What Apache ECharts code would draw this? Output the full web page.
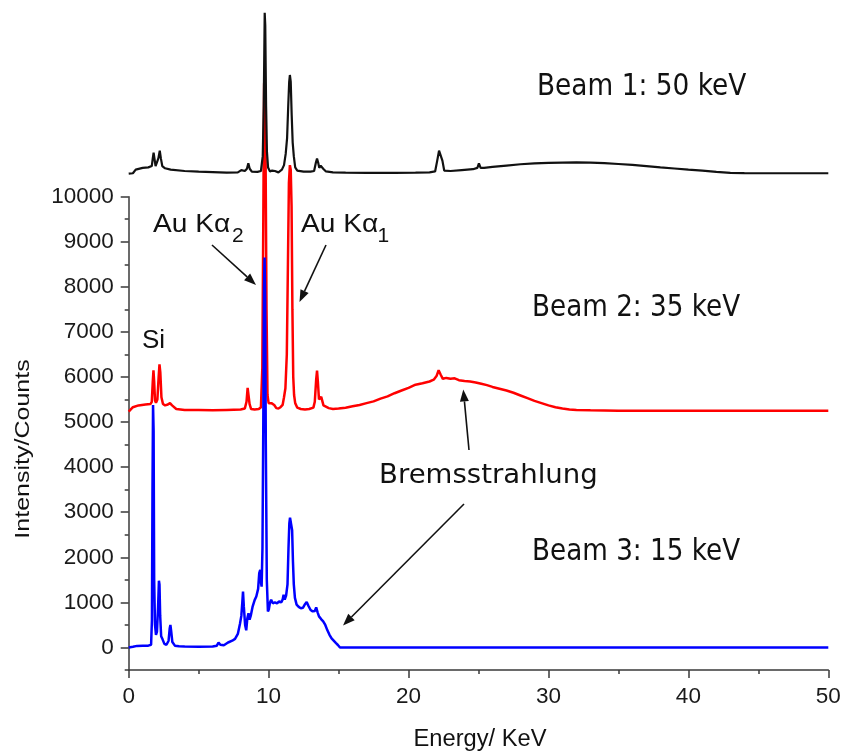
<!DOCTYPE html>
<html>
<head>
<meta charset="utf-8">
<script src="https://cdn.jsdelivr.net/npm/echarts@6/dist/echarts.min.js"></script>
<style>
  html, body { margin: 0; padding: 0; background: #ffffff; }
  #chart { width: 845px; height: 753px; }
</style>
</head>
<body>
<div id="chart"></div>
<script>
// EDS spectra of a gold-coated silicon sample at three beam energies (stacked with offsets)

// Beam 1: 50 keV (offset trace, drawn above the 10000 tick)
const beam1Energy = [0, 0.3, 0.5, 0.6, 1.0, 1.4, 1.65, 1.72, 1.78, 1.84, 1.92, 2.0, 2.12, 2.22, 2.3, 2.4, 2.6, 3.0, 4.0, 5.0, 6.0, 7.0, 7.8, 8.05, 8.15, 8.3, 8.45, 8.55, 8.65, 8.8, 9.2, 9.45, 9.58, 9.65, 9.72, 9.76, 9.82, 9.88, 9.96, 10.1, 10.25, 10.35, 10.45, 10.7, 10.95, 11.1, 11.22, 11.32, 11.4, 11.47, 11.52, 11.58, 11.65, 11.72, 11.8, 11.9, 12.05, 12.5, 13.0, 13.25, 13.38, 13.46, 13.54, 13.62, 13.72, 13.8, 13.9, 14.1, 14.6, 15.5, 17.0, 19.0, 20.5, 21.5, 21.9, 22.05, 22.18, 22.3, 22.42, 22.55, 23.0, 23.8, 24.6, 24.92, 25.03, 25.15, 25.4, 26.0, 27.0, 28.0, 29.0, 30.0, 31.0, 32.0, 33.0, 34.0, 35.0, 36.0, 37.0, 38.0, 39.0, 40.0, 41.0, 42.0, 43.0, 44.0, 46.0, 48.0, 50.0];
const beam1Counts = [10510, 10520, 10600, 10630, 10640, 10650, 10680, 10850, 10975, 10850, 10680, 10670, 10850, 11020, 10850, 10680, 10630, 10600, 10570, 10555, 10545, 10535, 10540, 10590, 10620, 10570, 10620, 10740, 10620, 10555, 10550, 10570, 10900, 12000, 14080, 13800, 12000, 11000, 10650, 10560, 10580, 10610, 10570, 10540, 10600, 10700, 10950, 11300, 12000, 12550, 12700, 12550, 11800, 11200, 10900, 10650, 10580, 10555, 10555, 10570, 10760, 10845, 10760, 10640, 10690, 10700, 10620, 10560, 10540, 10535, 10530, 10530, 10535, 10540, 10560, 10800, 11020, 11030, 10800, 10580, 10570, 10590, 10610, 10640, 10740, 10640, 10640, 10660, 10690, 10720, 10740, 10750, 10755, 10760, 10755, 10745, 10725, 10705, 10680, 10650, 10625, 10600, 10578, 10550, 10530, 10522, 10520, 10520, 10520];

// Beam 2: 35 keV (offset trace)
const beam2Energy = [0, 0.3, 0.7, 1.2, 1.55, 1.65, 1.72, 1.77, 1.82, 1.88, 1.95, 2.05, 2.14, 2.2, 2.26, 2.34, 2.45, 2.6, 2.8, 2.95, 3.1, 3.4, 4.0, 5.0, 6.0, 7.0, 8.0, 8.3, 8.42, 8.5, 8.56, 8.64, 8.75, 9.0, 9.3, 9.45, 9.55, 9.62, 9.68, 9.72, 9.78, 9.85, 9.92, 10.0, 10.1, 10.2, 10.3, 10.4, 10.55, 10.7, 10.85, 11.0, 11.1, 11.2, 11.3, 11.38, 11.45, 11.52, 11.58, 11.64, 11.7, 11.76, 11.82, 11.9, 12.05, 12.3, 12.6, 12.9, 13.2, 13.3, 13.4, 13.46, 13.52, 13.6, 13.68, 13.76, 13.83, 13.92, 14.05, 14.3, 14.6, 15.0, 15.5, 16.0, 16.5, 17.0, 17.5, 18.0, 18.5, 19.0, 19.5, 20.0, 20.5, 21.0, 21.5, 21.8, 22.0, 22.15, 22.3, 22.45, 22.7, 23.0, 23.3, 23.6, 24.0, 24.4, 24.8, 25.2, 25.6, 26.0, 26.5, 27.0, 27.5, 28.0, 28.5, 29.0, 29.5, 30.0, 30.5, 31.0, 31.5, 32.0, 33.0, 34.0, 35.0, 40.0, 45.0, 50.0];
const beam2Counts = [5230, 5330, 5370, 5390, 5400, 5450, 5900, 6150, 5900, 5480, 5430, 5500, 6000, 6280, 6100, 5550, 5400, 5370, 5390, 5420, 5370, 5290, 5270, 5270, 5260, 5270, 5280, 5300, 5450, 5760, 5760, 5400, 5290, 5280, 5290, 5330, 6200, 9500, 12500, 12700, 11000, 7500, 5600, 5420, 5380, 5420, 5440, 5380, 5310, 5300, 5330, 5380, 5550, 5750, 6500, 8500, 10300, 10700, 10600, 9800, 7500, 6000, 5600, 5420, 5320, 5290, 5280, 5290, 5320, 5450, 5950, 6140, 5900, 5500, 5480, 5560, 5520, 5370, 5330, 5310, 5290, 5300, 5320, 5350, 5380, 5420, 5460, 5520, 5570, 5640, 5700, 5760, 5830, 5860, 5900, 5940, 6020, 6150, 6050, 5960, 5980, 5960, 5970, 5930, 5910, 5900, 5880, 5850, 5820, 5780, 5740, 5700, 5650, 5590, 5530, 5470, 5420, 5370, 5330, 5300, 5280, 5270, 5260, 5255, 5250, 5250, 5250, 5250];

// Beam 3: 15 keV (no offset)
const beam3Energy = [0, 0.3, 0.6, 1.0, 1.4, 1.6, 1.66, 1.7, 1.74, 1.78, 1.82, 1.88, 1.95, 2.02, 2.1, 2.16, 2.2, 2.25, 2.32, 2.42, 2.55, 2.7, 2.85, 2.93, 2.98, 3.03, 3.12, 3.3, 3.6, 4.0, 5.0, 6.0, 6.3, 6.42, 6.55, 6.8, 7.1, 7.4, 7.6, 7.8, 7.95, 8.05, 8.12, 8.17, 8.23, 8.32, 8.4, 8.48, 8.56, 8.64, 8.72, 8.85, 9.0, 9.12, 9.25, 9.33, 9.4, 9.45, 9.5, 9.56, 9.62, 9.67, 9.71, 9.75, 9.8, 9.87, 9.95, 10.02, 10.1, 10.18, 10.3, 10.45, 10.6, 10.75, 10.9, 11.0, 11.07, 11.15, 11.25, 11.35, 11.42, 11.48, 11.53, 11.58, 11.63, 11.68, 11.74, 11.8, 11.88, 12.0, 12.15, 12.3, 12.45, 12.6, 12.72, 12.85, 13.0, 13.15, 13.3, 13.4, 13.5, 13.6, 13.75, 13.9, 14.05, 14.2, 14.35, 14.5, 14.65, 14.8, 14.95, 15.1, 20.0, 30.0, 40.0, 50.0];
const beam3Counts = [0, 15, 35, 40, 40, 60, 600, 3500, 5380, 4800, 1500, 500, 280, 350, 900, 1480, 1400, 700, 250, 180, 80, 60, 150, 420, 500, 380, 120, 40, 25, 20, 15, 20, 40, 110, 60, 50, 110, 150, 190, 300, 520, 700, 1000, 1240, 900, 500, 380, 650, 760, 620, 700, 900, 1050, 1130, 1300, 1650, 1720, 1450, 1350, 2200, 5000, 8000, 8650, 7800, 4500, 1500, 800, 850, 1000, 1060, 980, 1000, 980, 1020, 1000, 1060, 1170, 1060, 1150, 1400, 2200, 2750, 2880, 2900, 2850, 2600, 1900, 1400, 1100, 950, 900, 870, 880, 960, 1010, 920, 830, 800, 810, 890, 780, 690, 630, 580, 500, 380, 280, 200, 150, 100, 55, 0, 0, 0, 0, 0];

// Axis ticks
const xTickValues = [0, 10, 20, 30, 40, 50];
const yMajorTicks = [0, 1000, 2000, 3000, 4000, 5000, 6000, 7000, 8000, 9000, 10000];
const yMinorTicks = [-500, 500, 1500, 2500, 3500, 4500, 5500, 6500, 7500, 8500, 9500];

function toPairs(xs, ys) {
  return xs.map((x, i) => [x, ys[i]]);
}

const AXIS_COLOR = '#3a3a3a';
const ARIAL = '"Liberation Sans", Arial, sans-serif';
const VERDANA = '"DejaVu Sans", Verdana, sans-serif';

// Arrow made of a shaft and a filled head, from tail (x1,y1) to tip (x2,y2)
function arrow(x1, y1, x2, y2) {
  const dx = x2 - x1, dy = y2 - y1;
  const len = Math.hypot(dx, dy);
  const ux = dx / len, uy = dy / len;
  const nx = -uy, ny = ux;
  const headLen = 12, headHalf = 4.5;
  const bx = x2 - ux * headLen, by = y2 - uy * headLen;
  return [
    { type: 'line', z: 100, shape: { x1: x1, y1: y1, x2: bx, y2: by },
      style: { stroke: '#111', lineWidth: 1.6 } },
    { type: 'polygon', z: 100,
      shape: { points: [[x2, y2], [bx + nx * headHalf, by + ny * headHalf], [bx - nx * headHalf, by - ny * headHalf]] },
      style: { fill: '#111' } }
  ];
}

function label(text, x, y, font, opts) {
  opts = opts || {};
  return {
    type: 'text', z: 100, x: x, y: y,
    rotation: opts.rotation || 0,
    scaleX: opts.scaleX || 1,
    style: {
      text: text, font: font, fill: '#111',
      textAlign: opts.align || 'left',
      textVerticalAlign: 'middle'
    }
  };
}

const chart = echarts.init(document.getElementById('chart'), null, { renderer: 'canvas' });

const graphics = [].concat(
  [
    label('Beam 1: 50 keV', 537, 87, '30px ' + VERDANA, { scaleX: 0.88 }),
    label('Beam 2: 35 keV', 532, 308, '30px ' + VERDANA, { scaleX: 0.875 }),
    label('Beam 3: 15 keV', 532, 552, '30px ' + VERDANA, { scaleX: 0.875 }),
    label('Bremsstrahlung', 379, 476, '26.5px ' + VERDANA, { scaleX: 1.04 }),
    label('Si', 142, 341, '26px ' + ARIAL),
    label('Au K\u03b1', 153, 225, '26px ' + ARIAL, { scaleX: 1.08 }),
    label('2', 232, 236, '21px ' + ARIAL),
    label('Au K\u03b1', 301, 225, '26px ' + ARIAL, { scaleX: 1.08 }),
    label('1', 377.5, 236, '21px ' + ARIAL),
    label('Intensity/Counts', 23, 449, '20px ' + ARIAL, { rotation: Math.PI / 2, scaleX: 1.25, align: 'center' }),
    label('Energy/ KeV', 480, 740, '23px ' + ARIAL, { align: 'center', scaleX: 1.03 })
  ],
  arrow(212, 245, 256, 285),
  arrow(326, 245, 299.5, 302),
  arrow(469, 450, 463.3, 389.5),
  arrow(464, 504, 343, 625.5)
);

chart.setOption({
  animation: false,
  backgroundColor: '#ffffff',
  grid: { left: 128.7, right: 16.7, top: 196.7, bottom: 83, containLabel: false },
  xAxis: {
    type: 'value',
    min: 0, max: 50, interval: 10,
    axisLine: { show: true, onZero: false, lineStyle: { color: AXIS_COLOR, width: 1.5 } },
    axisTick: { show: true, length: 8, lineStyle: { color: AXIS_COLOR, width: 1.5 } },
    minorTick: { show: true, splitNumber: 2, length: 4, lineStyle: { color: AXIS_COLOR, width: 1.5 } },
    axisLabel: { margin: 15, fontSize: 22.5, fontFamily: ARIAL, color: '#1a1a1a',
      formatter: function (v) { return xTickValues.indexOf(v) >= 0 ? String(v) : ''; } },
    splitLine: { show: false }
  },
  yAxis: [
    {
      type: 'value',
      min: -500, max: 10000,
      axisLine: { show: true, onZero: false, lineStyle: { color: AXIS_COLOR, width: 1.5 } },
      axisTick: { show: true, length: 8, customValues: yMajorTicks, lineStyle: { color: AXIS_COLOR, width: 1.5 } },
      axisLabel: { margin: 15, fontSize: 22.5, fontFamily: ARIAL, color: '#1a1a1a', customValues: yMajorTicks,
        formatter: function (v) { return String(v); } },
      splitLine: { show: false }
    },
    {
      type: 'value',
      min: -500, max: 10000,
      position: 'left',
      axisLine: { show: false },
      axisTick: { show: true, length: 4, customValues: yMinorTicks, lineStyle: { color: AXIS_COLOR, width: 1.5 } },
      axisLabel: { show: false },
      splitLine: { show: false }
    }
  ],
  series: [
    {
      name: 'Beam 2: 35 keV', type: 'line', yAxisIndex: 0, clip: false, showSymbol: false, z: 2,
      lineStyle: { color: '#ff0000', width: 2.5 },
      data: toPairs(beam2Energy, beam2Counts)
    },
    {
      name: 'Beam 3: 15 keV', type: 'line', yAxisIndex: 0, clip: false, showSymbol: false, z: 3,
      lineStyle: { color: '#0000ff', width: 2.5 },
      data: toPairs(beam3Energy, beam3Counts)
    },
    {
      name: 'Beam 1: 50 keV', type: 'line', yAxisIndex: 0, clip: false, showSymbol: false, z: 4,
      lineStyle: { color: '#111111', width: 2.2 },
      data: toPairs(beam1Energy, beam1Counts)
    }
  ],
  graphic: graphics
});
</script>
</body>
</html>
